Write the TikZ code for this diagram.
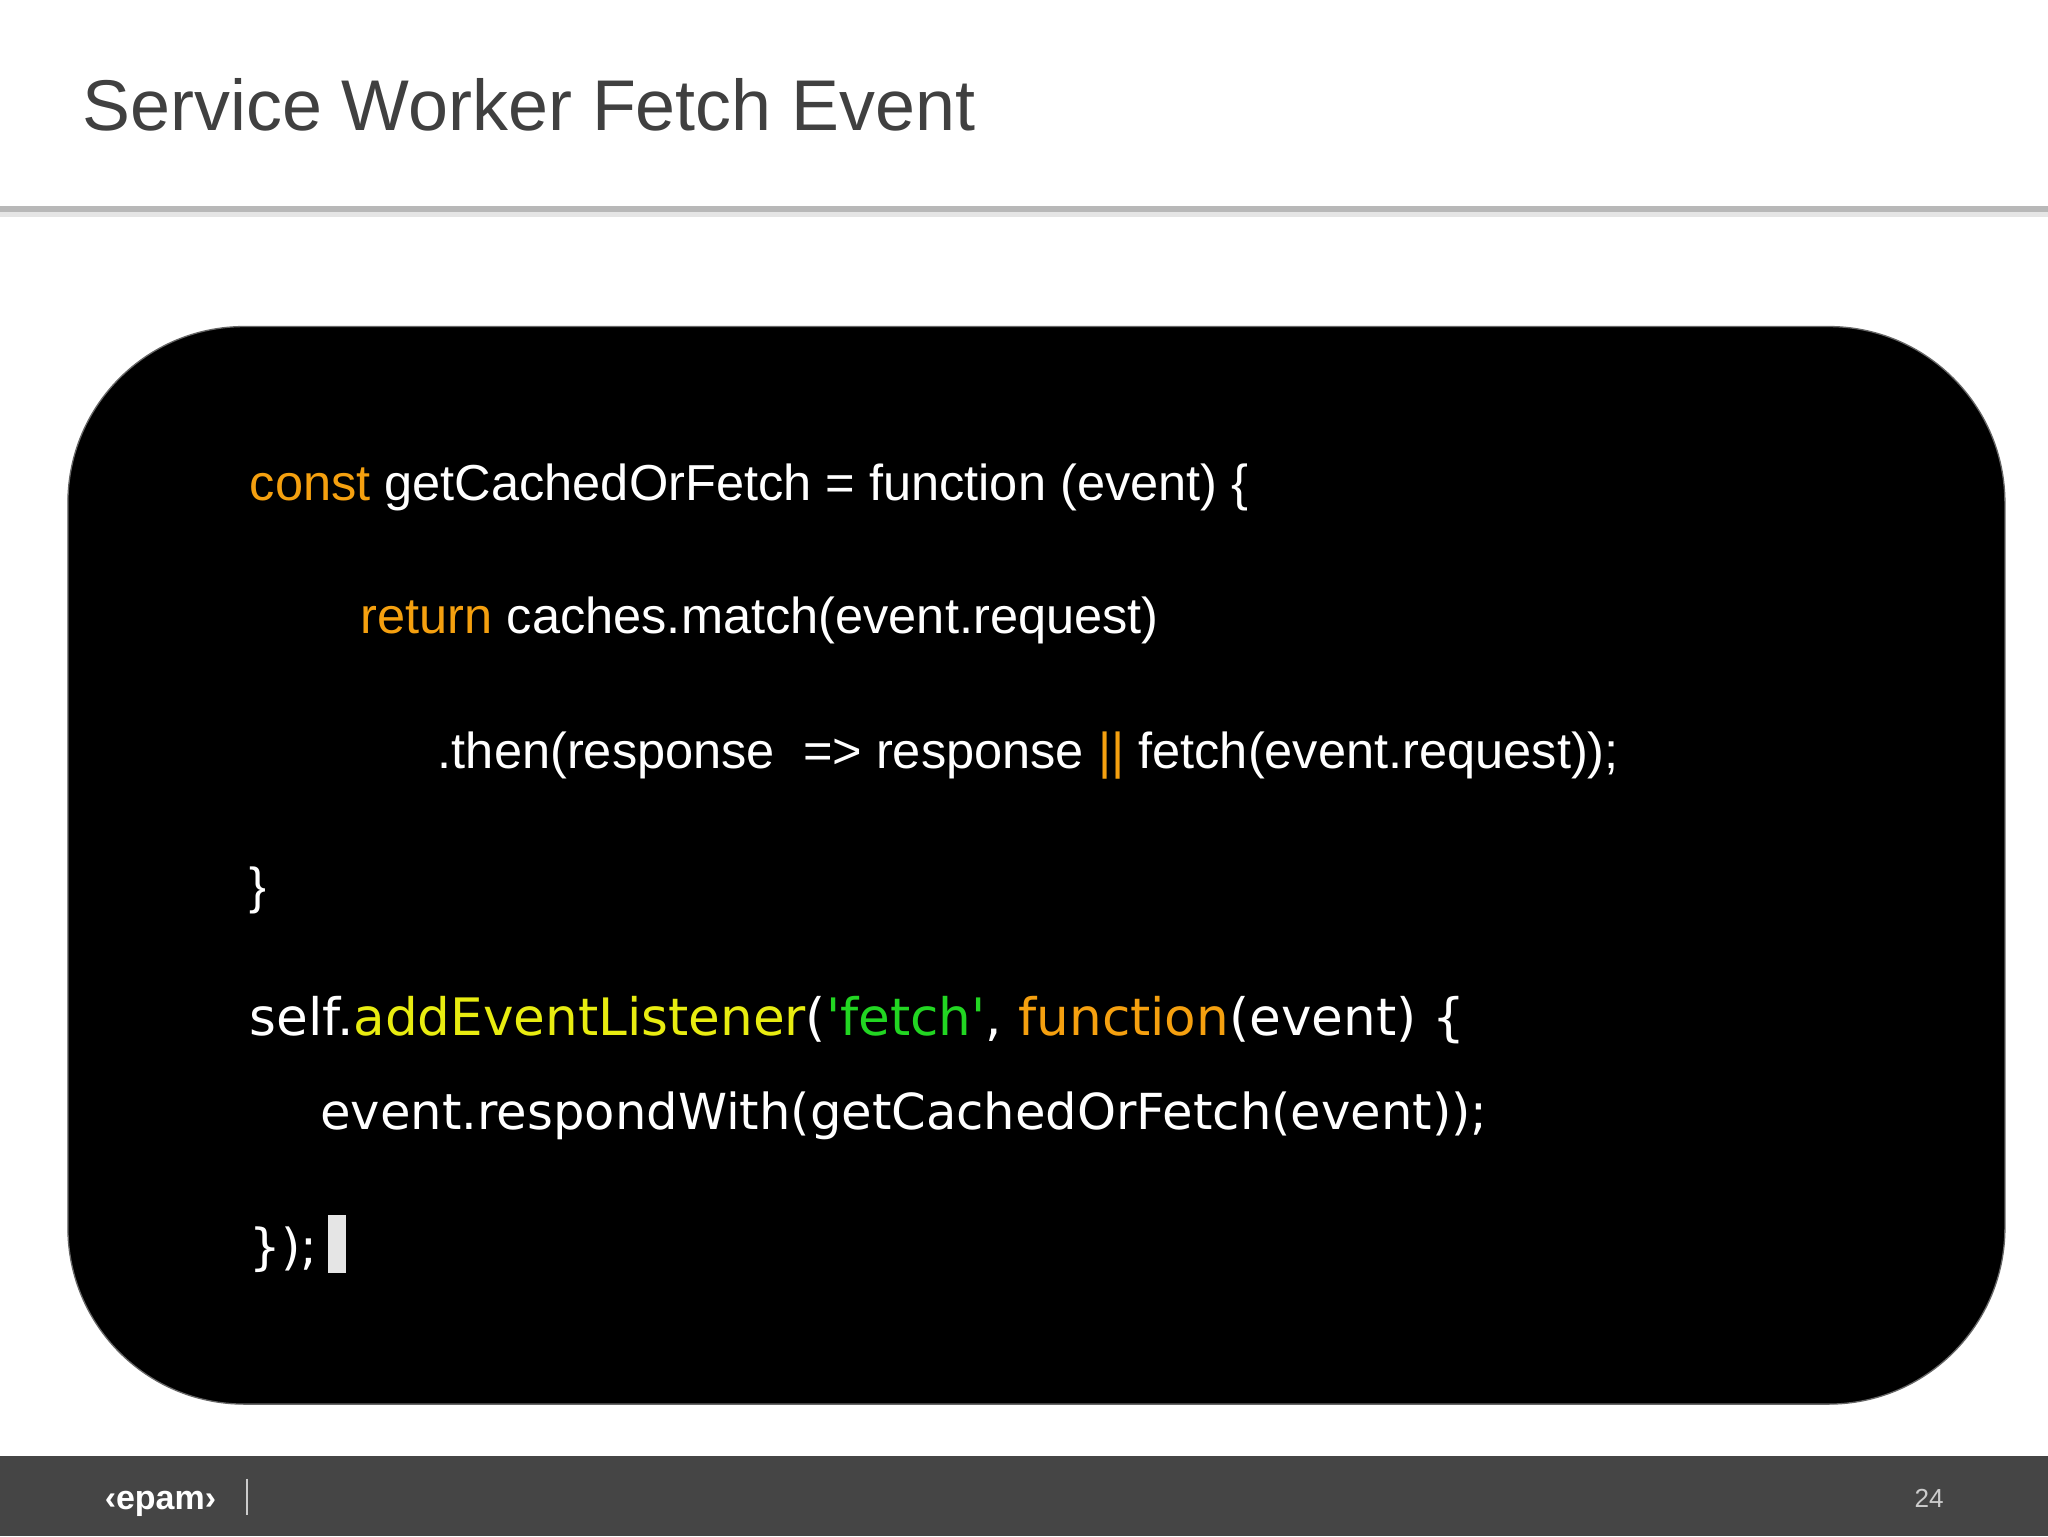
\documentclass[tikz,border=0pt]{standalone}
\usepackage{fontspec}
\setmainfont{Liberation Sans}
\newfontfamily\codeB{DejaVu Sans}
\definecolor{orng}{HTML}{F5A00F}
\definecolor{yel}{HTML}{E8EC10}
\definecolor{grn}{HTML}{22D622}
\definecolor{titlec}{HTML}{404040}
\definecolor{barc}{HTML}{454545}
\begin{document}
\begin{tikzpicture}[x=1pt,y=-1pt,
  codeA/.style={anchor=base west,text=white,inner sep=0pt,font=\fontsize{38.7}{42}\selectfont},
  codeBs/.style={anchor=base west,text=white,inner sep=0pt,font=\codeB\fontsize{38}{42}\selectfont}]
\useasboundingbox (0,0) rectangle (1568,1176);
\fill[white] (0,0) rectangle (1568,1176);
\node[anchor=base west,inner sep=0pt,text=titlec,font=\fontsize{55}{60}\selectfont] (title) at (63,100) {Service Worker Fetch Event};
\fill[black!10] (0,161) rectangle (1568,166);
\fill[black!28] (0,158) rectangle (1568,162);
\draw[fill=black,draw=black!60,line width=1pt,rounded corners=135pt] (52,250) rectangle (1535,1075);
\node[codeA] (l1) at (191,383) {\textcolor{orng}{const} getCachedOrFetch = function (event) \{};
\node[codeA] (l2) at (276,485) {\textcolor{orng}{return} caches.match(event.request)};
\node[codeA] (l3) at (335,588) {.then(response \ => response \textcolor{orng}{||} fetch(event.request));};
\node[codeA] (l4) at (191,692) {\}};
\node[codeBs,font=\codeB\fontsize{39.5}{42}\selectfont] (l5) at (191,793) {self.\textcolor{yel}{addEventListener}(\textcolor{grn}{'fetch'}, \textcolor{orng}{function}(event) \{};
\node[codeBs] (l6) at (245,865) {event.respondWith(getCachedOrFetch(event));};
\node[codeBs] (l7) at (191,968) {\});};
\fill[white!90!black] (251,930) rectangle (265,975);
\fill[barc] (0,1115) rectangle (1568,1176);
\node[anchor=base west,inner sep=0pt,text=white,font=\fontsize{26}{30}\selectfont\bfseries] (logo) at (80,1156) {‹epam›};
\draw[white!80!black,line width=1pt] (189,1132) -- (189,1160);
\node[anchor=base,inner sep=0pt,text=white!80!black,font=\fontsize{20}{22}\selectfont] (page) at (1477,1154) {24};
\end{tikzpicture}
\end{document}
